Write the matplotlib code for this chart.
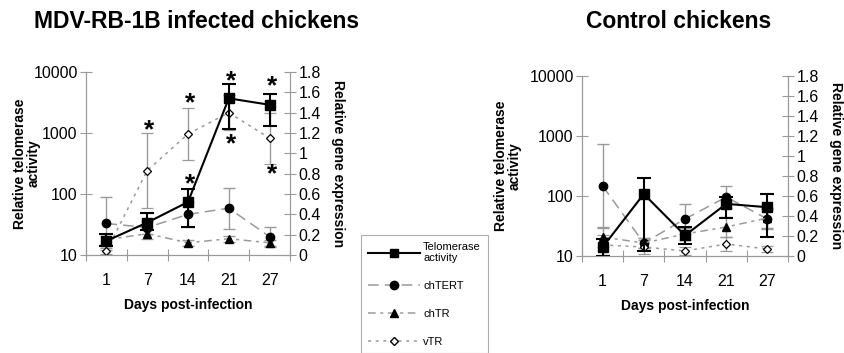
import matplotlib.pyplot as plt
import numpy as np
from matplotlib.ticker import FixedLocator, NullLocator, FuncFormatter, NullFormatter

plt.rcParams['font.family'] = ['Liberation Sans', 'DejaVu Sans']

days = ['1', '7', '14', '21', '27']

# infected chickens
inf_tel = [17, 34, 74, 3700, 2900]
inf_tel_lo = [14, 26, 29, 1170, 1300]
inf_tel_hi = [22, 48, 120, 6300, 4400]
inf_chtert = [0.31, 0.27, 0.40, 0.46, 0.18]
inf_chtert_err = [0.26, 0.06, 0.12, 0.20, 0.10]
inf_chtr = [0.15, 0.21, 0.12, 0.16, 0.12]
inf_chtr_err = [0.04, 0.05, 0.03, 0.03, 0.03]
inf_vtr = [0.04, 0.83, 1.19, 1.40, 1.15]
inf_vtr_err = [0.03, 0.37, 0.26, 0.17, 0.25]
# significance stars (day index, relative gene expression level)
inf_star_day = [1, 2, 2, 3, 3, 4, 4]
inf_star_lvl = [1.23, 1.49, 0.70, 1.71, 1.09, 1.66, 0.79]

# control chickens
ctl_tel = [14, 108, 22, 74, 65]
ctl_tel_lo = [10, 12, 16, 43, 21]
ctl_tel_hi = [19, 200, 30, 98, 108]
ctl_chtert = [0.70, 0.13, 0.37, 0.59, 0.37]
ctl_chtert_err = [0.42, 0.05, 0.15, 0.11, 0.10]
ctl_chtr = [0.19, 0.13, 0.22, 0.29, 0.38]
ctl_chtr_err = [0.10, 0.05, 0.06, 0.10, 0.10]
ctl_vtr = [0.11, 0.09, 0.05, 0.12, 0.07]
ctl_vtr_err = [0.10, 0.07, 0.04, 0.07, 0.03]

GRAY = '#9a9a9a'


def panel(rect, title, title_x, ylab_x, tel, tel_lo, tel_hi, chtert, chtert_e,
          chtr, chtr_e, vtr, vtr_e, star_day=(), star_lvl=()):
    ax = fig.add_axes(rect)
    ax2 = ax.twinx()
    x = np.arange(len(days))
    tel = np.array(tel)
    yerr = [tel - np.array(tel_lo), np.array(tel_hi) - tel]

    ax2.errorbar(x, chtert, yerr=chtert_e, color=GRAY, lw=1.1, dashes=(7, 4),
                 marker='o', ms=6, mfc='black', mec='black', ecolor=GRAY,
                 elinewidth=1, capsize=4)
    ax2.errorbar(x, chtr, yerr=chtr_e, color=GRAY, lw=1.1, dashes=(5, 3, 2, 3),
                 marker='^', ms=6, mfc='black', mec='black', ecolor=GRAY,
                 elinewidth=1, capsize=4)
    ax2.errorbar(x, vtr, yerr=vtr_e, color=GRAY, lw=1.1, dashes=(2, 3),
                 marker='D', ms=4, mfc='white', mec='black', mew=0.9, ecolor=GRAY,
                 elinewidth=1, capsize=4)
    for d, l in zip(star_day, star_lvl):
        ax2.text(d + 0.05, l, '*', fontsize=19, fontweight='bold',
                 ha='center', va='center')

    ax.errorbar(x, tel, yerr=yerr, color='black', lw=1.5, marker='s', ms=6.5,
                ecolor='black', elinewidth=1.5, capsize=5, capthick=1.5)
    ax.set_zorder(ax2.get_zorder() + 1)
    ax.patch.set_visible(False)

    ax.set_yscale('log')
    ax.set_ylim(10, 10000)
    ax.set_xlim(-0.5, len(days) - 0.5)
    ax.yaxis.set_major_locator(FixedLocator([10, 100, 1000, 10000]))
    ax.yaxis.set_major_formatter(FuncFormatter(lambda v, p: '%d' % v))
    ax.yaxis.set_minor_locator(NullLocator())
    ax.yaxis.set_minor_formatter(NullFormatter())
    ax.set_xticks(np.arange(-0.5, len(days)))
    ax.set_xticklabels([])
    ax.set_xticks(x, minor=True)
    ax.set_xticklabels(days, minor=True)
    ax.tick_params(axis='x', which='minor', length=0, labelsize=11.5, pad=13)

    ax2.set_ylim(0, 1.8)
    ax2.set_yticks(np.arange(0, 1.81, 0.2))
    ax2.yaxis.set_major_formatter(FuncFormatter(lambda v, p: '%g' % round(v, 1)))

    for a in (ax, ax2):
        a.spines['top'].set_visible(False)
        for s in ('left', 'right', 'bottom'):
            a.spines[s].set_color(GRAY)
        a.tick_params(which='major', direction='inout', length=8, color=GRAY,
                      labelsize=11.5)
    ax.tick_params(axis='y', pad=2)
    ax2.tick_params(axis='y', pad=2)

    ax.set_ylabel('Relative telomerase\nactivity', fontsize=10, fontweight='bold',
                  linespacing=0.95, va='center')
    ax.yaxis.set_label_coords(ylab_x, 0.5)
    ax2.set_ylabel('Relative gene expression', fontsize=10, fontweight='bold',
                   rotation=270, va='center')
    ax2.yaxis.set_label_coords(1.235, 0.5)
    ax.set_xlabel('Days post-infection', fontsize=10, fontweight='bold', labelpad=7)
    fig.text(title_x / 844, 1 - 22 / 353, title, fontsize=16.5, fontweight='bold',
             ha='center', va='center')
    return ax, ax2


fig = plt.figure(figsize=(8.44, 3.53), dpi=100)

panel([86 / 844, 1 - 255 / 353, 204 / 844, 183 / 353], 'MDV-RB-1B infected chickens', 197, -0.29,
      inf_tel, inf_tel_lo, inf_tel_hi, inf_chtert, inf_chtert_err,
      inf_chtr, inf_chtr_err, inf_vtr, inf_vtr_err, inf_star_day, inf_star_lvl)
panel([582 / 844, 1 - 256 / 353, 206 / 844, 180 / 353], 'Control chickens', 679, -0.36,
      ctl_tel, ctl_tel_lo, ctl_tel_hi, ctl_chtert, ctl_chtert_err,
      ctl_chtr, ctl_chtr_err, ctl_vtr, ctl_vtr_err)

# legend handles
h = [
    plt.Line2D([], [], color='black', lw=1.5, marker='s', ms=6),
    plt.Line2D([], [], color=GRAY, lw=1.1, dashes=(7, 4), marker='o', ms=6,
               mfc='black', mec='black'),
    plt.Line2D([], [], color=GRAY, lw=1.1, dashes=(5, 3, 2, 3), marker='^', ms=6,
               mfc='black', mec='black'),
    plt.Line2D([], [], color=GRAY, lw=1.1, dashes=(2, 3), marker='D', ms=4,
               mfc='white', mec='black'),
]
leg = fig.legend(h, ['Telomerase\nactivity', 'chTERT', 'chTR', 'vTR'],
                 loc='upper left', bbox_to_anchor=(361 / 844, 1 - 235 / 353),
                 fontsize=8, handlelength=4.7, handletextpad=0.3, labelspacing=1.6,
                 borderpad=0.6, borderaxespad=0, fancybox=False, frameon=True)
leg.get_frame().set_edgecolor(GRAY)
leg.get_frame().set_linewidth(0.8)

fig.savefig('out.png', dpi=100)
